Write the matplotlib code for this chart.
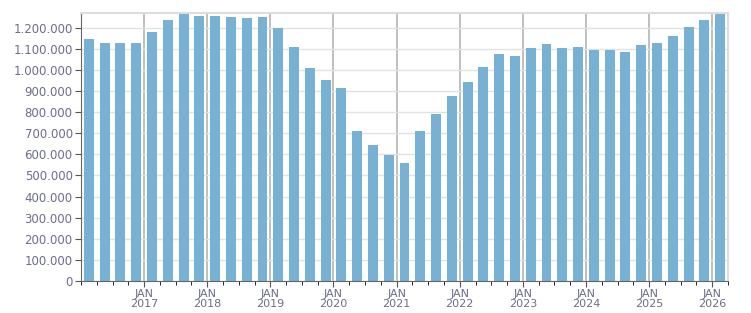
import matplotlib.pyplot as plt
import matplotlib.ticker as mticker

# quarterly values, 2016 Q1 .. 2026 Q1
quarters = [f"{y} Q{q}" for y in range(2016, 2026) for q in range(1, 5)] + ["2026 Q1"]
valores = [
    1145000, 1130000, 1130000, 1130000,
    1178000, 1235000, 1272000, 1254000,
    1254000, 1249000, 1244000, 1249000,
    1197000, 1111000, 1007000, 954000,
    916000, 712000, 646000, 598000,
    560000, 712000, 793000, 878000,
    945000, 1016000, 1078000, 1068000,
    1102000, 1121000, 1106000, 1111000,
    1097000, 1097000, 1087000, 1116000,
    1130000, 1163000, 1206000, 1235000,
    1275000,
]
anios = ["2017", "2018", "2019", "2020", "2021", "2022", "2023", "2024", "2025", "2026"]

color_barra = "#77b1d3"
color_texto = "#6c6c8c"

fig = plt.figure(figsize=(7.51, 3.13), dpi=100)
ax = fig.add_axes([81 / 751, 32 / 313, 647 / 751, 268 / 313])

x = [i + 0.5 for i in range(len(valores))]
ax.bar(x, valores, width=0.63, color=color_barra, zorder=2)

ax.set_xlim(0, len(valores))
ax.set_ylim(0, 1270000)

# eje y
ax.yaxis.set_major_locator(mticker.MultipleLocator(100000))
ax.yaxis.set_major_formatter(mticker.FuncFormatter(lambda v, p: f"{int(v):,}".replace(",", ".")))
ax.grid(axis="y", color="#e2e2e2", linewidth=1, zorder=0)

# eje x: JAN de cada año, ticks menores por trimestre
pos_anios = [4 * (i + 1) for i in range(len(anios))]
ax.set_xticks(pos_anios)
ax.set_xticklabels([f"JAN\n{a}" for a in anios], linespacing=1.1)
ax.set_xticks(range(0, len(valores) + 1), minor=True)
for p in pos_anios:
    ax.axvline(p, color="#b4b4b4", linewidth=1.2, zorder=1)

ax.tick_params(axis="both", colors="#555555", labelcolor=color_texto)
ax.tick_params(axis="x", which="major", length=4, pad=1.5, labelsize=8)
ax.tick_params(axis="x", which="minor", length=3)
ax.tick_params(axis="y", length=4, pad=2, labelsize=8.5)

for lado in ["left", "bottom"]:
    ax.spines[lado].set_color("#666666")
for lado in ["top", "right"]:
    ax.spines[lado].set_color("#dddddd")
    ax.spines[lado].set_linewidth(1.5)

fig.savefig("out.png", dpi=100)
